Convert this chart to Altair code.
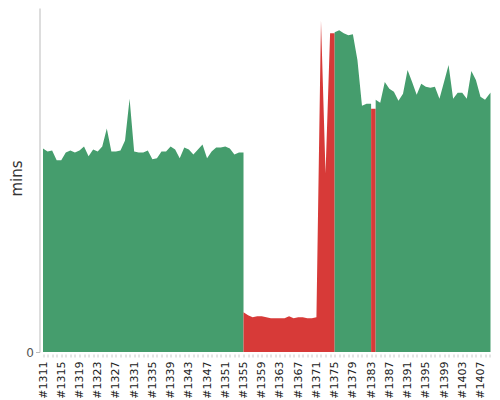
import altair as alt
import pandas as pd

# Build numbers (x categories)
builds = list(range(1311, 1411))

# Build duration in minutes, one per build
durations = [
    20.5, 20.2, 20.3, 19.3, 19.3, 20.1, 20.3, 20.1, 20.3, 20.7,   # 1311-1320
    19.7, 20.4, 20.2, 20.7, 22.5, 20.2, 20.2, 20.3, 21.3, 25.5,   # 1321-1330
    20.2, 20.1, 20.1, 20.3, 19.4, 19.5, 20.2, 20.2, 20.7, 20.4,   # 1331-1340
    19.5, 20.6, 20.4, 19.9, 20.4, 20.9, 19.5, 20.2, 20.6, 20.6,   # 1341-1350
    20.7, 20.5, 19.9, 20.1, 4.0, 3.7, 3.5, 3.6, 3.6, 3.5,         # 1351-1360
    3.4, 3.4, 3.4, 3.4, 3.6, 3.4, 3.5, 3.5, 3.4, 3.4,             # 1361-1370
    3.5, 33.4, 18.0, 32.1, 32.2, 32.4, 32.1, 31.9, 32.0, 29.4,    # 1371-1380
    24.8, 25.0, 24.5, 25.4, 25.1, 27.2, 26.5, 26.2, 25.3, 26.0,   # 1381-1390
    28.4, 27.2, 25.9, 27.0, 26.7, 26.6, 26.7, 25.5, 27.2, 28.9,   # 1391-1400
    25.5, 26.1, 26.1, 25.5, 28.3, 27.4, 25.7, 25.4, 26.0, 26.4,   # 1401-1410
]

# Builds that failed (everything else succeeded)
failed_builds = list(range(1355, 1375)) + [1383]

status_names = ["success", "failure"]
status_colors = ["#459d6d", "#d73a38"]

# Build the area table: one run per consecutive stretch of equal status,
# each run held flat until the next build where the status changes.
statuses = ["failure" if b in failed_builds else "success" for b in builds]
rows = []
run = 0
for i, (b, d, s) in enumerate(zip(builds, durations, statuses)):
    if i > 0 and s != statuses[i - 1]:
        rows.append({"build": int(b), "mins": float(durations[i - 1]),
                     "status": statuses[i - 1], "run": f"r{run}"})
        run += 1
    rows.append({"build": int(b), "mins": float(d), "status": s, "run": f"r{run}"})
df = pd.DataFrame(rows)

label_expr = "(datum.value - 1311) % 4 == 0 ? '#' + datum.value : ''"

chart = (
    alt.Chart(df)
    .mark_area(clip=True)
    .encode(
        x=alt.X(
            "build:Q",
            scale=alt.Scale(domain=[1310.23, 1409.2], nice=False, zero=False),
            axis=alt.Axis(
                values=builds,
                labelExpr=label_expr,
                labelAngle=270,
                labelOverlap=False,
                labelFont="DejaVu Sans",
                labelFontSize=11,
                labelColor="#222222",
                labelPadding=4,
                domain=False,
                grid=False,
                ticks=True,
                tickSize=3,
                tickColor="#c8c8c8",
                offset=2,
                title=None,
            ),
        ),
        y=alt.Y(
            "mins:Q",
            stack=None,
            scale=alt.Scale(domain=[0, 34.64], nice=False),
            axis=alt.Axis(
                values=[0],
                grid=False,
                domain=True,
                domainColor="#bbbbbb",
                ticks=True,
                tickSize=4,
                tickColor="#bbbbbb",
                labelFont="DejaVu Sans",
                labelFontSize=12,
                labelColor="#555555",
                labelPadding=2,
                title="mins",
                titleFont="DejaVu Sans",
                titleFontSize=15,
                titleFontWeight="normal",
                titleColor="#333333",
                titleAngle=270,
                titleAlign="center",
                titleBaseline="middle",
                titleX=-23.5,
                titleY=170,
            ),
        ),
        color=alt.Color(
            "status:N",
            scale=alt.Scale(domain=status_names, range=status_colors),
            legend=None,
        ),
        detail="run:N",
    )
    .properties(
        width=451,
        height=344,
        autosize=alt.AutoSizeParams(type="none"),
        padding={"left": 31.5, "top": 0, "right": 0, "bottom": 48},
    )
    .configure(background="white")
    .configure_view(strokeWidth=0, stroke="transparent")
)

chart.save("out.html", embed_options={"renderer": "svg", "actions": False})
